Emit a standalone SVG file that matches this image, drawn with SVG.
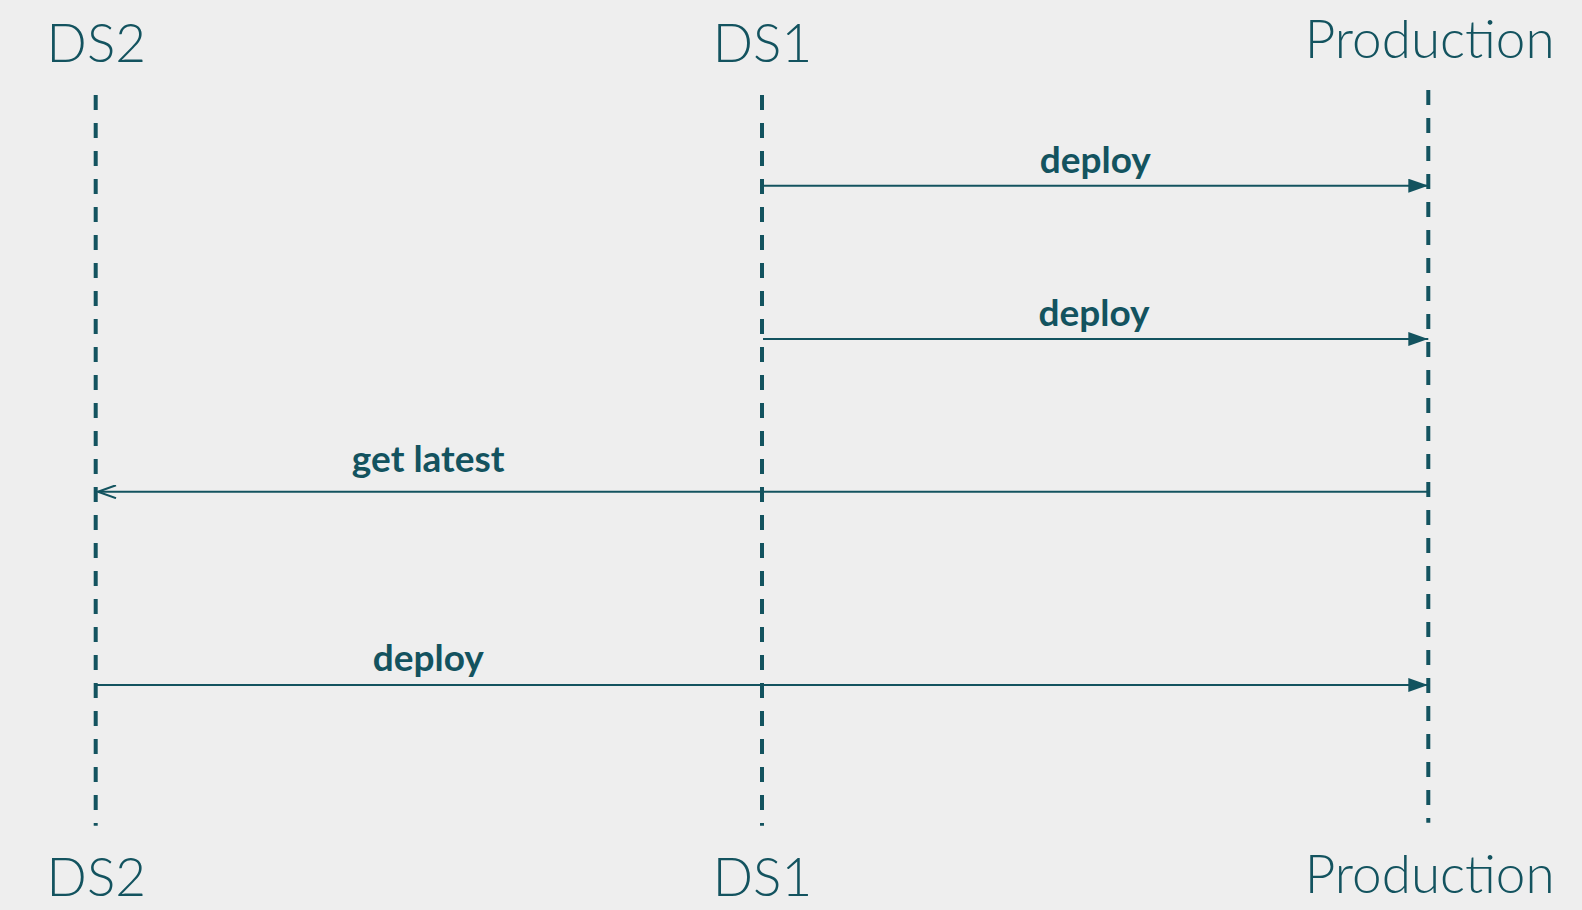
<svg xmlns="http://www.w3.org/2000/svg" width="1582" height="910" viewBox="0 0 1582 910">
<style>
.bg{fill:#eeeeee}
.actor{font-family:Lato,"Liberation Sans",sans-serif;font-weight:300;font-size:53px;fill:#13535f;text-anchor:middle}
.life{stroke:#13535f;stroke-width:4;stroke-dasharray:15 13;fill:none}
.msg{stroke:#13535f;stroke-width:2;fill:none}
.lbl{font-family:Lato,"Liberation Sans",sans-serif;font-weight:700;font-size:37px;fill:#13535f;text-anchor:middle}
</style>
<defs>
<marker id="filled" viewBox="0 0 20 14" refX="20" refY="7" markerWidth="20" markerHeight="14" markerUnits="userSpaceOnUse" orient="auto">
<path d="M0,0 L20,7 L0,14 Z" fill="#13535f"/>
</marker>
<marker id="open" viewBox="0 0 20 14" refX="19" refY="7" markerWidth="20" markerHeight="14" markerUnits="userSpaceOnUse" orient="auto">
<path d="M1,0.5 L19,7 L1,13.5" fill="none" stroke="#13535f" stroke-width="2"/>
</marker>
</defs>
<rect class="bg" x="0" y="0" width="1582" height="910"/>
<g id="actor-ds2">
<text class="actor" x="96.3" y="61.7">DS2</text>
<line class="life" x1="95.7" y1="95" x2="95.7" y2="825.7"/>
<text class="actor" x="96.3" y="896">DS2</text>
</g>
<g id="actor-ds1">
<text class="actor" x="762.5" y="61.7">DS1</text>
<line class="life" x1="762" y1="95" x2="762" y2="825.7"/>
<text class="actor" x="762.5" y="896">DS1</text>
</g>
<g id="actor-production">
<text class="actor" x="1429.7" y="58.3">Production</text>
<line class="life" x1="1428.3" y1="90" x2="1428.3" y2="822.7"/>
<text class="actor" x="1429.7" y="893.3">Production</text>
</g>
<g id="connectors">
<line class="msg" x1="763" y1="185.7" x2="1428.3" y2="185.7" marker-end="url(#filled)"/>
<line class="msg" x1="763" y1="339" x2="1428.3" y2="339" marker-end="url(#filled)"/>
<line class="msg" x1="1428.3" y1="491.7" x2="98" y2="491.7" marker-end="url(#open)"/>
<line class="msg" x1="96" y1="685" x2="1428.3" y2="685" marker-end="url(#filled)"/>
</g>
<g id="labels">
<text class="lbl" x="1095.3" y="172.7">deploy</text>
<text class="lbl" x="1094" y="325.5">deploy</text>
<text class="lbl" x="428.2" y="471.7">get latest</text>
<text class="lbl" x="428.3" y="671">deploy</text>
</g>
</svg>
